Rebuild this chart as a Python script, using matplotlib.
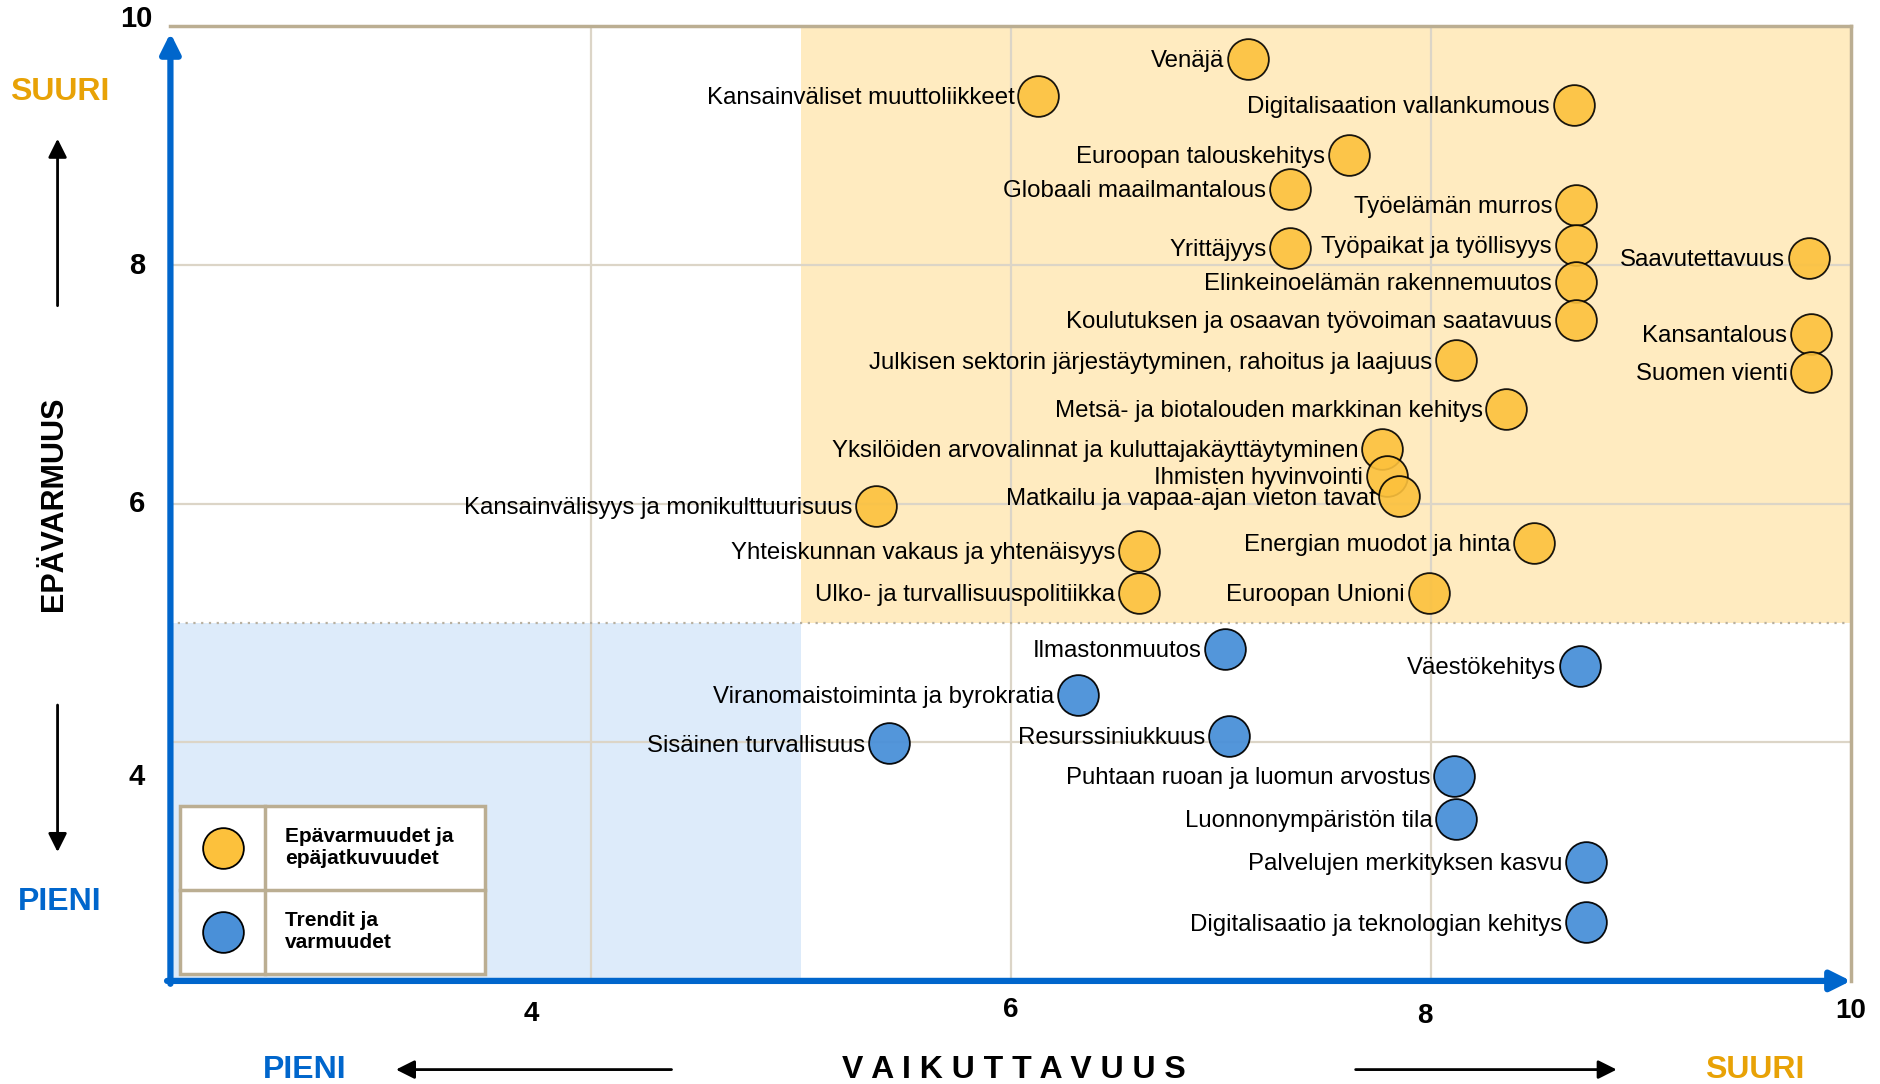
import matplotlib.pyplot as plt
from matplotlib.patches import Rectangle

plt.rcParams['font.family'] = ['Liberation Sans', 'DejaVu Sans']

# Epävarmuudet ja epäjatkuvuudet (yellow)
unc_names = ["Venäjä", "Kansainväliset muuttoliikkeet", "Digitalisaation vallankumous",
             "Euroopan talouskehitys", "Globaali maailmantalous", "Työelämän murros",
             "Yrittäjyys", "Työpaikat ja työllisyys", "Saavutettavuus",
             "Elinkeinoelämän rakennemuutos", "Koulutuksen ja osaavan työvoiman saatavuus",
             "Kansantalous", "Julkisen sektorin järjestäytyminen, rahoitus ja laajuus",
             "Suomen vienti", "Metsä- ja biotalouden markkinan kehitys",
             "Yksilöiden arvovalinnat ja kuluttajakäyttäytyminen", "Ihmisten hyvinvointi",
             "Matkailu ja vapaa-ajan vieton tavat", "Kansainvälisyys ja monikulttuurisuus",
             "Yhteiskunnan vakaus ja yhtenäisyys", "Energian muodot ja hinta",
             "Ulko- ja turvallisuuspolitiikka", "Euroopan Unioni"]
unc_x = [7.13, 6.13, 8.68, 7.61, 7.33, 8.69, 7.33, 8.69, 9.80, 8.69, 8.69, 9.81, 8.12,
         9.81, 8.36, 7.77, 7.79, 7.85, 5.36, 6.61, 8.49, 6.61, 7.99]
unc_y = [9.73, 9.42, 9.34, 8.92, 8.64, 8.50, 8.14, 8.17, 8.06, 7.86, 7.54, 7.42, 7.20,
         7.10, 6.79, 6.46, 6.23, 6.06, 5.98, 5.60, 5.67, 5.25, 5.25]

# Trendit ja varmuudet (blue)
trend_names = ["Ilmastonmuutos", "Väestökehitys", "Viranomaistoiminta ja byrokratia",
               "Resurssiniukkuus", "Sisäinen turvallisuus", "Puhtaan ruoan ja luomun arvostus",
               "Luonnonympäristön tila", "Palvelujen merkityksen kasvu",
               "Digitalisaatio ja teknologian kehitys"]
trend_x = [7.02, 8.71, 6.32, 7.04, 5.42, 8.11, 8.12, 8.74, 8.74]
trend_y = [4.78, 4.64, 4.40, 4.05, 3.99, 3.72, 3.36, 3.00, 2.49]

legend_labels = ["Epävarmuudet ja\nepäjatkuvuudet", "Trendit ja\nvarmuudet"]
tick_vals = [4, 6, 8, 10]

YELLOW = '#FCC13C'
BLUE = '#4A90D8'
AXBLUE = '#0066CC'
ORANGE = '#E8A206'
TAN = '#BBAE92'
GRID = '#DCD5C7'

fig = plt.figure(figsize=(18.81, 10.84), dpi=100)
ax = fig.add_axes([0.0906, 0.0951, 0.8934, 0.8806])
ax.set_xlim(2, 10)
ax.set_ylim(2, 10)

# background regions
ax.add_patch(Rectangle((5, 5), 5, 5, facecolor='#FFEBC0', edgecolor='none', zorder=0))
ax.add_patch(Rectangle((2, 2), 3, 3, facecolor='#DDEBFA', edgecolor='none', zorder=0))
for v in [4, 6, 8]:
    ax.axvline(v, color=GRID, lw=1.6, zorder=1)
    ax.axhline(v, color=GRID, lw=1.6, zorder=1)
ax.axhline(5, color='#B8B0A0', lw=1.6, ls=(0, (1, 2.5)), zorder=1)

ax.set_xticks([])
ax.set_yticks([])
for s in ['top', 'right']:
    ax.spines[s].set_color(TAN)
    ax.spines[s].set_linewidth(2.5)
for s in ['left', 'bottom']:
    ax.spines[s].set_visible(False)

ax.annotate('', xy=(0, 0.993), xytext=(0, -0.003), xycoords='axes fraction',
            arrowprops=dict(arrowstyle='-|>', color=AXBLUE, lw=4.5, mutation_scale=30,
                            shrinkA=0, shrinkB=0), zorder=5)
ax.annotate('', xy=(1.0, 0), xytext=(-0.002, 0), xycoords='axes fraction',
            arrowprops=dict(arrowstyle='-|>', color=AXBLUE, lw=4.5, mutation_scale=30,
                            shrinkA=0, shrinkB=0), zorder=5)

ax.scatter(unc_x, unc_y, s=860, c=YELLOW, edgecolors='black', linewidths=1.3,
           alpha=0.9, zorder=3, clip_on=False)
ax.scatter(trend_x, trend_y, s=860, c=BLUE, edgecolors='black', linewidths=1.3,
           alpha=0.95, zorder=3, clip_on=False)

for name, x, y in zip(unc_names, unc_x, unc_y):
    ax.annotate(name, (x, y), xytext=(-17, -1.5), textcoords='offset points',
                ha='right', va='center', fontsize=17.3, zorder=4)
for name, x, y in zip(trend_names, trend_x, trend_y):
    ax.annotate(name, (x, y), xytext=(-17, -1.5), textcoords='offset points',
                ha='right', va='center', fontsize=17.3, zorder=4)

# legend box
lx0, lx1, lxm = 0.0057, 0.187, 0.0564
ly0, ly1, lym = 0.0075, 0.1834, 0.0955
ax.add_patch(Rectangle((lx0, ly0), lx1 - lx0, ly1 - ly0, transform=ax.transAxes,
                       facecolor='white', edgecolor=TAN, lw=2.5, zorder=6))
ax.plot([lx0, lx1], [lym, lym], transform=ax.transAxes, color=TAN, lw=2.5, zorder=7)
ax.plot([lxm, lxm], [ly0, ly1], transform=ax.transAxes, color=TAN, lw=2.5, zorder=7)
for (yc, col, lab) in [((lym + ly1) / 2, YELLOW, legend_labels[0]),
                       ((ly0 + lym) / 2, BLUE, legend_labels[1])]:
    ax.scatter([(lx0 + lxm) / 2], [yc], s=860, c=col, edgecolors='black',
               linewidths=1.3, transform=ax.transAxes, zorder=8)
    ax.text(lxm + 0.012, yc, lab, transform=ax.transAxes, ha='left', va='center',
            fontsize=15, fontweight='bold', linespacing=1.2, zorder=8)

# tick labels
ytick_pos = [0.2832, 0.5354, 0.7544, 0.9823]
for v, yp in zip(tick_vals, ytick_pos):
    fig.text(0.0727, yp, str(v), ha='center', va='center', fontsize=21, fontweight='bold')
xtick_pos = [0.2825, 0.5376, 0.7577, 0.984]
xtick_y = [0.0650, 0.0685, 0.0630, 0.0675]
for v, xp, yp in zip(tick_vals, xtick_pos, xtick_y):
    fig.text(xp, yp, str(v), ha='center', va='center', fontsize=20, fontweight='bold')

# outer axis titles
fig.text(0.0319, 0.9148, 'SUURI', color=ORANGE, fontsize=23, fontweight='bold',
         ha='center', va='center')
fig.text(0.0319, 0.168, 'PIENI', color=AXBLUE, fontsize=23, fontweight='bold',
         ha='center', va='center')
fig.text(0.0287, 0.535, 'EPÄVARMUUS', rotation=90, fontsize=22, fontweight='bold',
         ha='center', va='center')
arr = dict(arrowstyle='-|>', color='black', lw=2, mutation_scale=28, shrinkA=0, shrinkB=0)
fig.add_artist(plt.Annotation('', xy=(0.0306, 0.872), xytext=(0.0306, 0.718),
                              xycoords='figure fraction', arrowprops=arr))
fig.add_artist(plt.Annotation('', xy=(0.0306, 0.214), xytext=(0.0306, 0.3496),
                              xycoords='figure fraction', arrowprops=arr))

fig.text(0.162, 0.0133, 'PIENI', color=AXBLUE, fontsize=23, fontweight='bold',
         ha='center', va='center')
fig.text(0.933, 0.0133, 'SUURI', color=ORANGE, fontsize=23, fontweight='bold',
         ha='center', va='center')
fig.text(0.539, 0.0133, 'V A I K U T T A V U U S', fontsize=23, fontweight='bold',
         ha='center', va='center')
fig.add_artist(plt.Annotation('', xy=(0.2105, 0.0133), xytext=(0.357, 0.0133),
                              xycoords='figure fraction', arrowprops=arr))
fig.add_artist(plt.Annotation('', xy=(0.8595, 0.0133), xytext=(0.7207, 0.0133),
                              xycoords='figure fraction', arrowprops=arr))

fig.savefig('out.png', dpi=100)
